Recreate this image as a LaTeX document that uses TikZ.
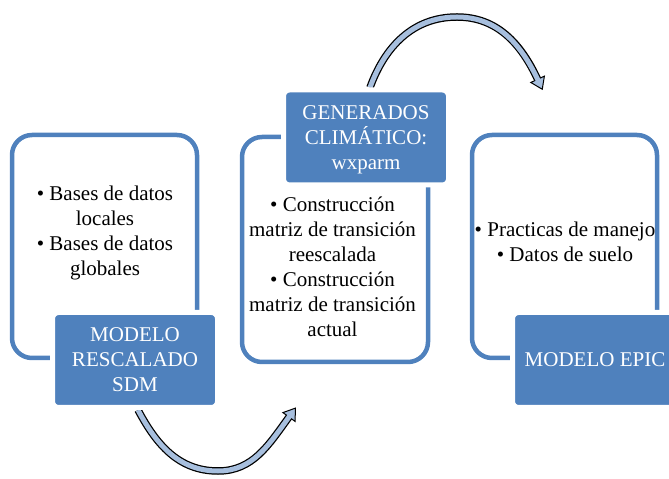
\documentclass[tikz,border=0pt]{standalone}
\usepackage{fontspec}
\setmainfont{Liberation Serif}
\usetikzlibrary{backgrounds}
\definecolor{boxblue}{HTML}{4F81BD}
\definecolor{arrowblue}{HTML}{A7BFDE}
\tikzset{
  outerbox/.style={draw=boxblue, line width=4.5pt, rounded corners=20pt, inner sep=0pt},
  titlebox/.style={fill=boxblue, draw=white, line width=5pt, rounded corners=6pt, text=white,
    align=center, inner sep=0pt, minimum width=165pt, minimum height=95pt,
    font=\fontsize{21}{25}\selectfont},
  itemtext/.style={align=center, inner sep=0pt, font=\fontsize{21}{25}\selectfont},
  shaftout/.style={line width=7.5pt, black},
  shaftin/.style={line width=5pt, arrowblue, shorten >=-1.5pt},
  arrowhead/.style={fill=arrowblue, draw=black, line width=1pt}
}
\begin{document}
\begin{tikzpicture}[x=1pt,y=1pt]
\useasboundingbox (0,0) rectangle (669,479);
\node[outerbox, minimum width=185pt, minimum height=223pt] (sdmbox) at (104.5,232.5) {};
\node[outerbox, minimum width=186pt, minimum height=225pt] (genbox) at (335,229.5) {};
\node[outerbox, minimum width=185pt, minimum height=223pt] (epicbox) at (564.5,232.5) {};
\node[itemtext] (sdmitems) at (105,246.4) {• Bases de datos\\ locales\\ • Bases de datos\\ globales};
\node[itemtext] (genitems) at (332.5,211.7) {• Construcción\\ matriz de transición\\ reescalada\\ • Construcción\\ matriz de transición\\ actual};
\node[itemtext] (epicitems) at (565,237.6) {• Practicas de manejo\\ • Datos de suelo};
\node[titlebox] (sdm) at (135,119) {MODELO\\ RESCALADO\\ SDM};
\node[titlebox, text depth=0pt] (gen) at (366,341.5) {GENERADOS\\ CLIMÁTICO:\\ wxparm};
\node[titlebox] (epic) at (595,119) {MODELO EPIC};
\coordinate (low1) at (218,8);
\coordinate (end1) at (289,62);
\coordinate (top2) at (457,462);
\coordinate (end2) at (537.6,399.7);
\begin{pgfonlayer}{background}
\draw[shaftout] ([xshift=3pt]sdm.south) to[out=-62,in=180] (low1) to[out=0,in=234] (end1);
\filldraw[arrowhead, shift={(end1)}, rotate=54] (0,7.5) -- (11,0) -- (0,-7.5) -- cycle;
\draw[shaftin] ([xshift=3pt]sdm.south) to[out=-62,in=180] (low1) to[out=0,in=234] (end1);
\draw[shaftout] ([xshift=4pt]gen.north) to[out=70,in=180] (top2) to[out=0,in=115] (end2);
\filldraw[arrowhead, shift={(end2)}, rotate=-65] (0,7.5) -- (11,0) -- (0,-7.5) -- cycle;
\draw[shaftin] ([xshift=4pt]gen.north) to[out=70,in=180] (top2) to[out=0,in=115] (end2);
\end{pgfonlayer}
\end{tikzpicture}
\end{document}
